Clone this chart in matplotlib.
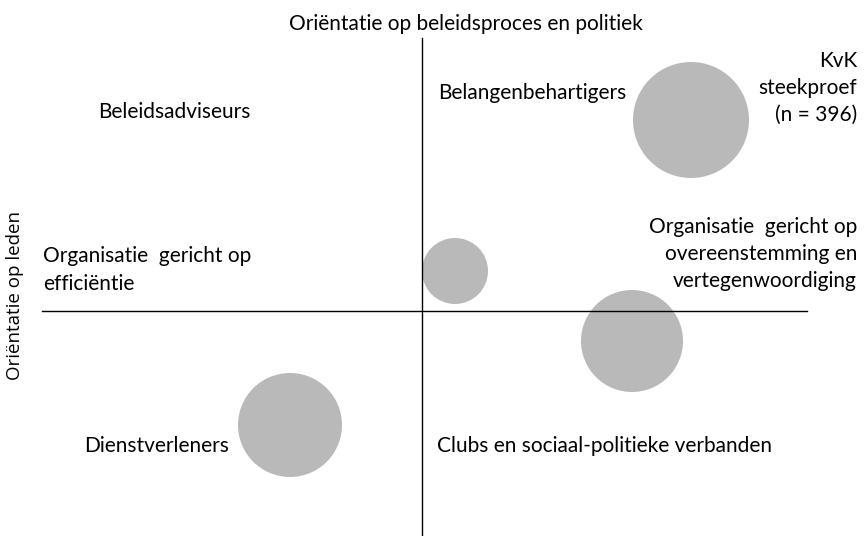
import matplotlib
matplotlib.use("Agg")
import matplotlib.pyplot as plt
from matplotlib.patches import Circle

# Bubble data (conceptual coordinates: origin at the axis crossing)
bubble_x = [269, 33, 210, -132]
bubble_y = [191, 40, -30, -114]
bubble_r = [58, 33, 51, 52]

# Quadrant / annotation labels: text, x, y, horizontal alignment
labels = [
    ("Beleidsadviseurs", -248, 199, "center"),
    ("Belangenbehartigers", 16, 218, "left"),
    ("KvK\nsteekproef\n(n = 396)", 435, 223, "right"),
    ("Organisatie  gericht op\nefficiëntie", -379, 41, "left"),
    ("Organisatie  gericht op\novereenstemming en\nvertegenwoordiging", 435, 57, "right"),
    ("Dienstverleners", -265, -135, "center"),
    ("Clubs en sociaal-politieke verbanden", 15, -135, "left"),
]
top_title = "Oriëntatie op beleidsproces en politiek"
side_title = "Oriëntatie op leden"

fig = plt.figure(figsize=(8.67, 5.36), dpi=100)
ax = fig.add_axes([0, 0, 1, 1])
ax.set_xlim(-422, 445)
ax.set_ylim(-225, 311)
ax.set_aspect("equal")
ax.axis("off")

# axis cross
ax.plot([0, 0], [-225, 273], color="black", lw=1.0, zorder=3)
ax.plot([-380, 385], [0, 0], color="black", lw=1.0, zorder=3)

for x, y, r in zip(bubble_x, bubble_y, bubble_r):
    ax.add_patch(Circle((x, y), r, facecolor="#b9b9b9", edgecolor="none", zorder=2))

font = ["Lato", "DejaVu Sans"]
for txt, x, y, ha in labels:
    ax.text(x, y, txt, ha=ha, va="center", fontsize=15, family=font,
            linespacing=1.45, zorder=4)

ax.text(44, 287, top_title, ha="center", va="center", fontsize=15, family=font)
ax.text(-407, 16, side_title, ha="center", va="center", rotation=90,
        fontsize=13.5, family=["Open Sans", "DejaVu Sans"])

fig.savefig("out.png", dpi=100)
